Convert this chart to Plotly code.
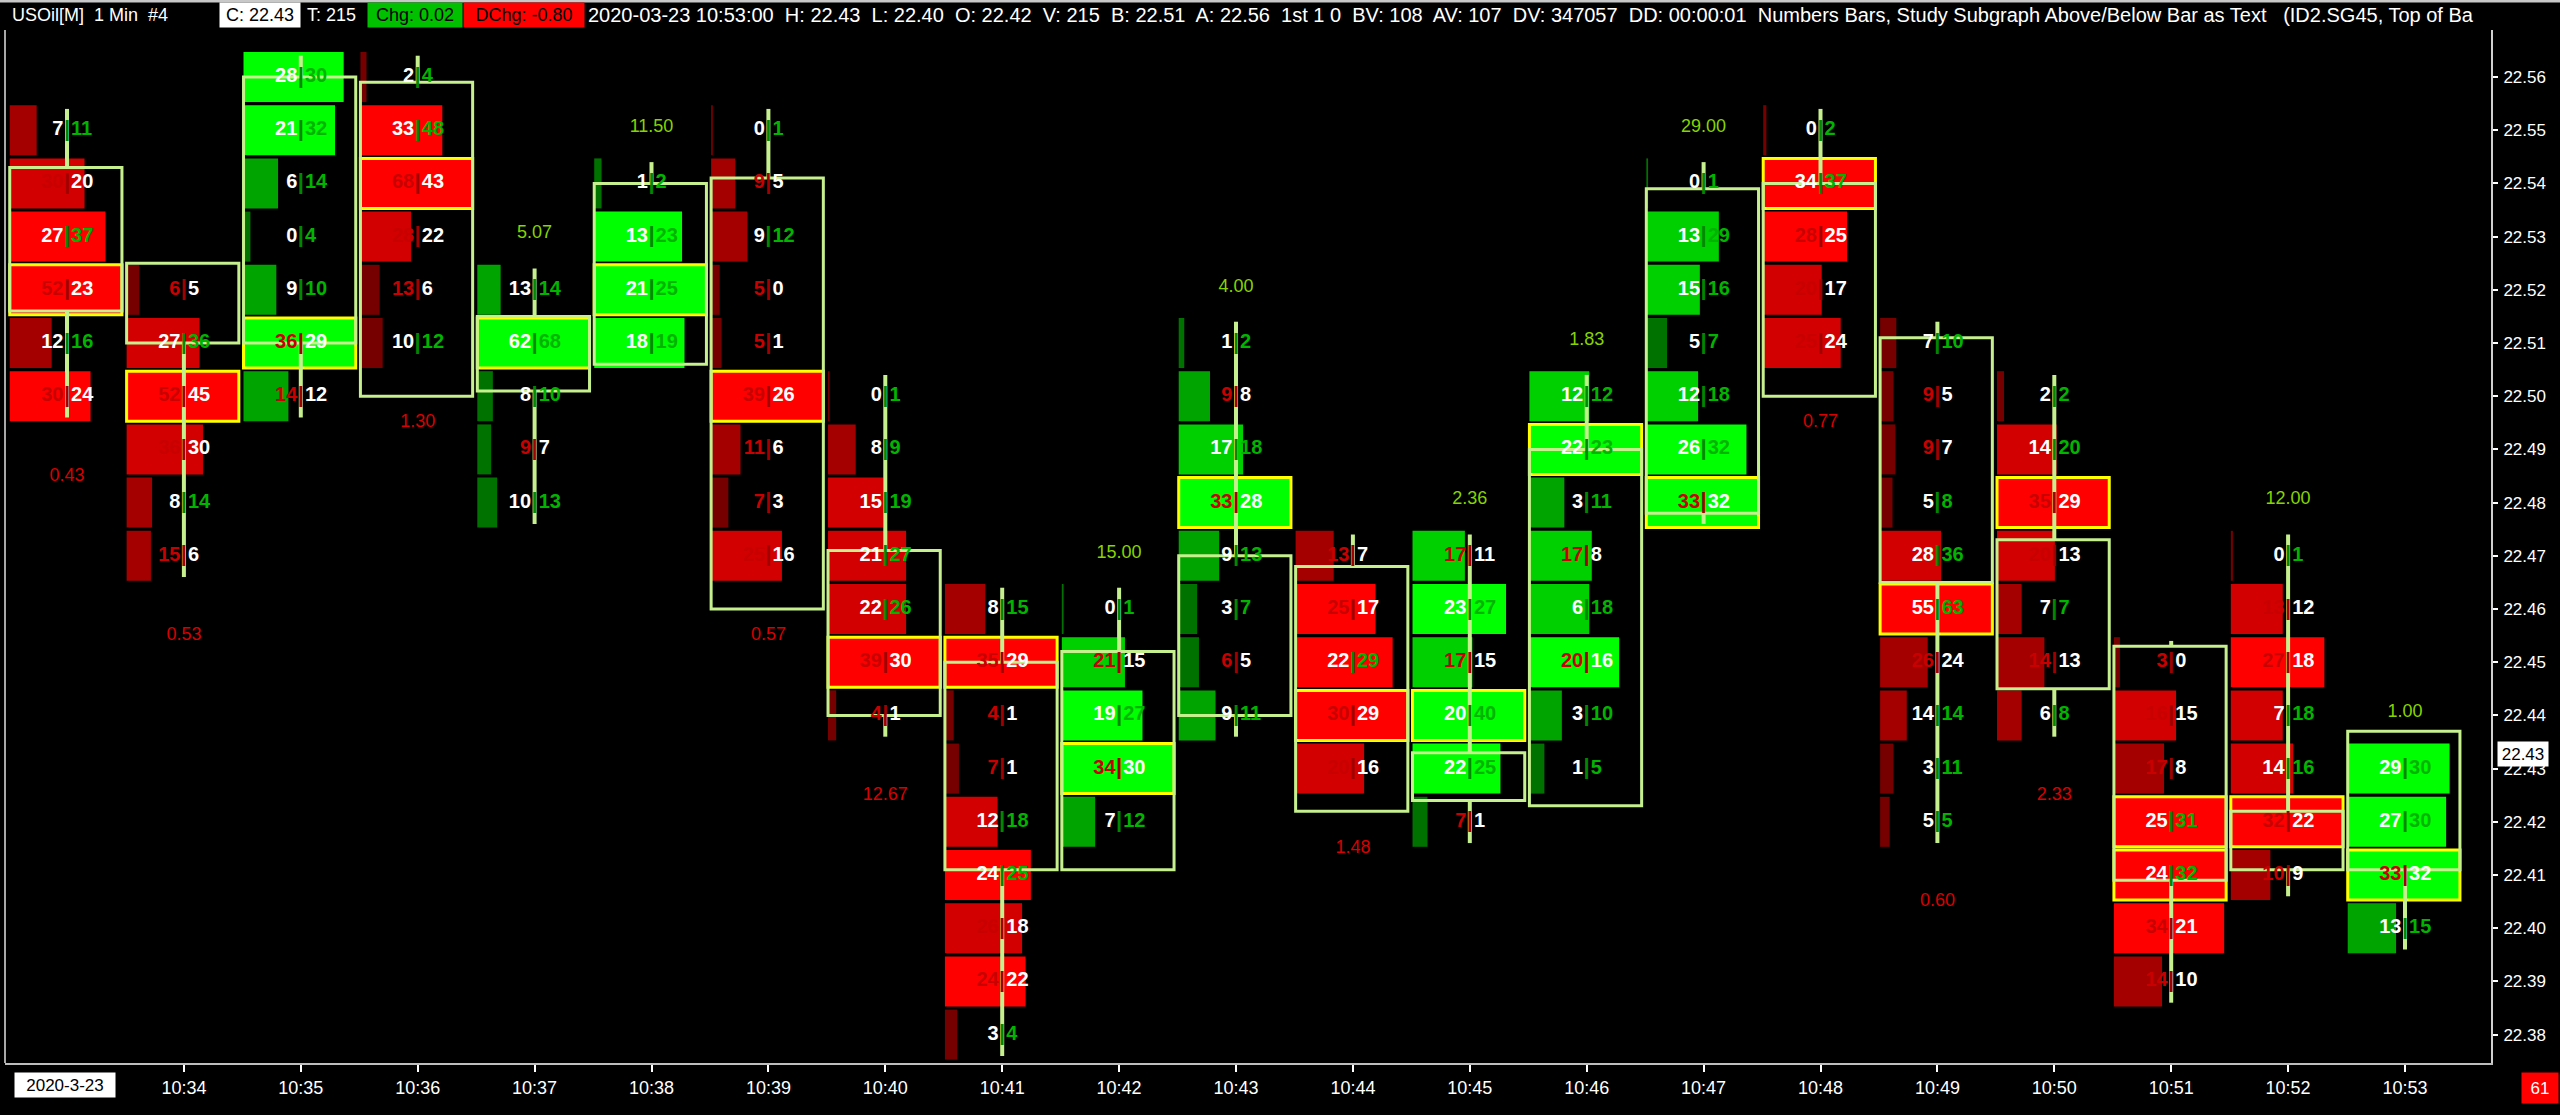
import plotly.graph_objects as go

# ---------------- data ----------------
TIME_LABELS = ["10:33", "10:34", "10:35", "10:36", "10:37", "10:38", "10:39", "10:40",
               "10:41", "10:42", "10:43", "10:44", "10:45", "10:46", "10:47", "10:48",
               "10:49", "10:50", "10:51", "10:52", "10:53"]

PRICE_TICKS = [22.38, 22.39, 22.40, 22.41, 22.42, 22.43, 22.44, 22.45, 22.46, 22.47,
               22.48, 22.49, 22.50, 22.51, 22.52, 22.53, 22.54, 22.55, 22.56]

# highest traded price of every bar (rows go down one tick each)
TOP_PRICES = [22.55, 22.52, 22.56, 22.56, 22.52, 22.54, 22.55, 22.50, 22.46, 22.46, 22.51,
              22.47, 22.47, 22.50, 22.54, 22.55, 22.51, 22.50, 22.45, 22.47, 22.43]

BIDS = [
    [7, 30, 27, 52, 12, 30],
    [6, 27, 52, 36, 8, 15],
    [28, 21, 6, 0, 9, 36, 14],
    [2, 33, 68, 28, 13, 10],
    [13, 62, 8, 9, 10],
    [1, 13, 21, 18],
    [0, 9, 9, 5, 5, 39, 11, 7, 25],
    [0, 8, 15, 21, 22, 39, 4],
    [8, 35, 4, 7, 12, 24, 26, 24, 3],
    [0, 21, 19, 34, 7],
    [1, 9, 17, 33, 9, 3, 6, 9],
    [13, 25, 22, 30, 20],
    [17, 23, 17, 20, 22, 7],
    [12, 22, 3, 17, 6, 20, 3, 1],
    [0, 13, 15, 5, 12, 26, 33],
    [0, 34, 28, 20, 25],
    [7, 9, 9, 5, 28, 55, 26, 14, 3, 5],
    [2, 14, 35, 20, 7, 14, 6],
    [3, 16, 17, 25, 24, 34, 14],
    [0, 13, 27, 7, 14, 32, 10],
    [29, 27, 33, 13],
]

ASKS = [
    [11, 20, 37, 23, 16, 24],
    [5, 36, 45, 30, 14, 6],
    [30, 32, 14, 4, 10, 29, 12],
    [4, 48, 43, 22, 6, 12],
    [14, 68, 10, 7, 13],
    [2, 23, 25, 19],
    [1, 5, 12, 0, 1, 26, 6, 3, 16],
    [1, 9, 19, 27, 26, 30, 1],
    [15, 29, 1, 1, 18, 25, 18, 22, 4],
    [1, 15, 27, 30, 12],
    [2, 8, 18, 28, 13, 7, 5, 11],
    [7, 17, 29, 29, 16],
    [11, 27, 15, 40, 25, 1],
    [12, 23, 11, 8, 18, 16, 10, 5],
    [1, 29, 16, 7, 18, 32, 32],
    [2, 37, 25, 17, 24],
    [10, 5, 7, 8, 36, 63, 24, 14, 11, 5],
    [2, 20, 29, 13, 7, 13, 8],
    [0, 15, 8, 31, 32, 21, 10],
    [1, 12, 18, 18, 16, 22, 9],
    [30, 30, 32, 15],
]

OPENS = [22.543, 22.525, 22.510, 22.559, 22.501, 22.506, 22.541, 22.471, 22.450, 22.411, 22.440,
         22.468, 22.424, 22.423, 22.478, 22.540, 22.511, 22.473, 22.453, 22.422, 22.411]
CLOSES = [22.516, 22.510, 22.560, 22.500, 22.515, 22.540, 22.460, 22.440, 22.411, 22.452, 22.470,
          22.422, 22.433, 22.490, 22.539, 22.500, 22.465, 22.445, 22.409, 22.411, 22.437]

STUDY_TEXT = ["0.43", "0.53", None, "1.30", "5.07", "11.50", "0.57", "12.67", None, "15.00",
              "4.00", "1.48", "2.36", "1.83", "29.00", "0.77", "0.60", "2.33", None, "12.00", "1.00"]
# True: value printed above the bar (green), False: below the bar (red)
STUDY_ABOVE = [False, False, False, False, True, True, False, False, False, True,
               True, False, True, True, True, False, False, False, False, True, True]

HEADER_MAIN = ("2020-03-23 10:53:00  H: 22.43  L: 22.40  O: 22.42  V: 215  B: 22.51  A: 22.56  1st 1 0  "
               "BV: 108  AV: 107  DV: 347057  DD: 00:00:01  Numbers Bars, Study Subgraph Above/Below Bar as Text"
               "   (ID2.SG45, Top of Ba")

# ---------------- geometry / style ----------------
W, H = 2560, 1115
L, R, T, B = 5, 69, 30, 52
X0PX, DX = 67.0, 116.9           # pixel of first bar, pixels per bar
REFP, REFPX, PXT = 22.56, 77.0, 53.2
TICK = 0.01
XMIN = (L - X0PX) / DX
XMAX = (W - R - X0PX) / DX
YMAX = REFP + (REFPX - T) / PXT * TICK
YMIN = REFP - (H - B - REFPX) / PXT * TICK
COL_L, COL_R = -0.49, 0.47
HALF = 0.0047
LIME = "#c6f08e"
NUMFONT = "Liberation Sans, Arial, sans-serif"
HFONT = "Liberation Sans, Arial, sans-serif"

BID_RED = "#c80000"
ASK_GREEN = "#00b400"


def px_x(px):
    return (px - L) / (W - L - R)


def px_y(py):
    return 1 - (py - T) / (H - T - B)


def shade(frac, up, poc):
    if poc or frac >= 0.7:
        return "#00ff00" if up else "#ff0000"
    if frac >= 0.45:
        return "#00d000" if up else "#d20000"
    if frac >= 0.2:
        return "#00a400" if up else "#a40000"
    return "#007200" if up else "#760000"


shapes = []
bx, by, bt, bc = [], [], [], []
sx, sy, sc = [], [], []
ax, ay, at, ac = [], [], [], []
lx, ly, lt, lc = [], [], [], []

n = len(TIME_LABELS)
for i in range(n):
    bids, asks = BIDS[i], ASKS[i]
    tots = [b + a for b, a in zip(bids, asks)]
    M = max(tots)
    up = CLOSES[i] > OPENS[i]
    top = TOP_PRICES[i]
    low = round(top - (len(bids) - 1) * TICK, 2)
    for k, (b, a) in enumerate(zip(bids, asks)):
        p = round(top - k * TICK, 2)
        poc = tots[k] == M
        x0 = i + COL_L
        x1 = i + COL_R if poc else x0 + (COL_R - COL_L) * tots[k] / M
        shapes.append(dict(type="rect", xref="x", yref="y", x0=x0, x1=x1,
                           y0=p - HALF, y1=p + HALF, layer="below",
                           fillcolor=shade(tots[k] / M, up, poc),
                           line=dict(color="#ffff00", width=3) if poc else dict(width=0)))
        bx.append(i - 0.03); by.append(p); bt.append(str(b))
        bc.append(BID_RED if b > a else "#ffffff")
        ax.append(i + 0.035); ay.append(p); at.append(str(a))
        ac.append(ASK_GREEN if a >= b else "#ffffff")
        sx.append(i); sy.append(p)
        sc.append("#008800" if a >= b else "#a00000")
    # candle body box
    btop, bbot = max(OPENS[i], CLOSES[i]), min(OPENS[i], CLOSES[i])
    shapes.append(dict(type="rect", xref="x", yref="y", x0=i + COL_L, x1=i + COL_R,
                       y0=bbot, y1=btop, layer="below", fillcolor="rgba(0,0,0,0)",
                       line=dict(color=LIME, width=3)))
    # wick outside the body
    hi_ext = top + 0.4 * TICK
    lo_ext = low - 0.4 * TICK
    if hi_ext > btop:
        shapes.append(dict(type="line", xref="x", yref="y", x0=i, x1=i, y0=btop, y1=hi_ext,
                           layer="below", line=dict(color=LIME, width=4)))
    if lo_ext < bbot:
        shapes.append(dict(type="line", xref="x", yref="y", x0=i, x1=i, y0=lo_ext, y1=bbot,
                           layer="below", line=dict(color=LIME, width=4)))
    if STUDY_TEXT[i]:
        lx.append(i)
        if STUDY_ABOVE[i]:
            ly.append(top + 1.05 * TICK); lc.append("#86d400")
        else:
            ly.append(low - 1.5 * TICK); lc.append("#d80000")
        lt.append(STUDY_TEXT[i])

fig = go.Figure()
fig.add_trace(go.Scatter(x=bx, y=by, text=bt, mode="text", textposition="middle left",
                         textfont=dict(family=NUMFONT, size=20, color=bc, weight="bold"),
                         hoverinfo="skip", cliponaxis=False))
fig.add_trace(go.Scatter(x=sx, y=sy, text=["|"] * len(sx), mode="text", textposition="middle center",
                         textfont=dict(family=NUMFONT, size=22, color=sc, weight="bold"),
                         hoverinfo="skip", cliponaxis=False))
fig.add_trace(go.Scatter(x=ax, y=ay, text=at, mode="text", textposition="middle right",
                         textfont=dict(family=NUMFONT, size=20, color=ac, weight="bold"),
                         hoverinfo="skip", cliponaxis=False))
fig.add_trace(go.Scatter(x=lx, y=ly, text=lt, mode="text", textposition="middle center",
                         textfont=dict(family=NUMFONT, size=18, color=lc), hoverinfo="skip",
                         cliponaxis=False))

# frame lines
shapes.append(dict(type="line", xref="paper", yref="paper", x0=0, x1=0, y0=0, y1=1,
                   line=dict(color="#a8a8a8", width=2)))
shapes.append(dict(type="line", xref="paper", yref="paper", x0=px_x(0), x1=px_x(W),
                   y0=px_y(1), y1=px_y(1), line=dict(color="#c8c8c8", width=3)))

anns = []
hy = px_y(15)
anns.append(dict(xref="paper", yref="paper", x=px_x(10), y=hy, xanchor="left", yanchor="middle",
                 text="USOil[M]  1 Min  #4", showarrow=False,
                 font=dict(family=HFONT, size=18, color="white")))
anns.append(dict(xref="paper", yref="paper", x=px_x(219), y=hy, xanchor="left", yanchor="middle",
                 text="C: 22.43", showarrow=False, bgcolor="white", width=78, height=22,
                 font=dict(family=HFONT, size=18, color="black")))
anns.append(dict(xref="paper", yref="paper", x=px_x(305), y=hy, xanchor="left", yanchor="middle",
                 text="T: 215", showarrow=False, font=dict(family=HFONT, size=18, color="white")))
anns.append(dict(xref="paper", yref="paper", x=px_x(367), y=hy, xanchor="left", yanchor="middle",
                 text="Chg: 0.02", showarrow=False, bgcolor="#00c000", width=92, height=22,
                 font=dict(family=HFONT, size=18, color="black")))
anns.append(dict(xref="paper", yref="paper", x=px_x(463), y=hy, xanchor="left", yanchor="middle",
                 text="DChg: -0.80", showarrow=False, bgcolor="#ff0000", width=118, height=22,
                 font=dict(family=HFONT, size=18, color="black")))
anns.append(dict(xref="paper", yref="paper", x=px_x(586), y=hy, xanchor="left", yanchor="middle",
                 text=HEADER_MAIN, showarrow=False, font=dict(family=HFONT, size=20, color="white")))

# date box, bottom-right box, current price marker
anns.append(dict(xref="paper", yref="paper", x=px_x(14), y=px_y(1085), xanchor="left", yanchor="middle",
                 text="2020-3-23", showarrow=False, bgcolor="white", width=98, height=22,
                 font=dict(family=HFONT, size=17, color="black")))
anns.append(dict(xref="paper", yref="paper", x=px_x(2521), y=px_y(1088), xanchor="left", yanchor="middle",
                 text="61", showarrow=False, bgcolor="#ff0000", width=34, height=28, borderpad=1,
                 font=dict(family=HFONT, size=17, color="white")))
anns.append(dict(xref="paper", yref="y", x=px_x(2497), y=22.43, yshift=15, xanchor="left",
                 yanchor="middle", text="22.43", showarrow=False, bgcolor="white", width=48, height=22,
                 borderpad=1, font=dict(family=HFONT, size=17, color="black")))

fig.update_layout(width=W, height=H, margin=dict(l=L, r=R, t=T, b=B, pad=0),
                  paper_bgcolor="black", plot_bgcolor="black", showlegend=False,
                  shapes=shapes, annotations=anns,
                  font=dict(family=HFONT, color="white"))
fig.update_xaxes(range=[XMIN, XMAX], tickvals=list(range(1, n)), ticktext=TIME_LABELS[1:],
                 ticks="outside", ticklen=7, tickwidth=2, tickcolor="white",
                 tickfont=dict(family=HFONT, size=18, color="white"),
                 showgrid=False, zeroline=False, showline=True, linecolor="#bdbdbd", linewidth=2)
fig.update_yaxes(side="right", range=[YMIN, YMAX], tickvals=PRICE_TICKS,
                 ticktext=[f"{v:.2f}" for v in PRICE_TICKS],
                 ticks="outside", ticklen=5, tickwidth=2, tickcolor="white",
                 tickfont=dict(family=HFONT, size=17, color="white"), ticklabelstandoff=2,
                 showgrid=False, zeroline=False, showline=True, linecolor="#d0d0d0", linewidth=2)

fig.write_html("out.html", config={"displayModeBar": False, "staticPlot": True},
               post_script="document.body.style.margin='0px';document.body.style.background='black';")
